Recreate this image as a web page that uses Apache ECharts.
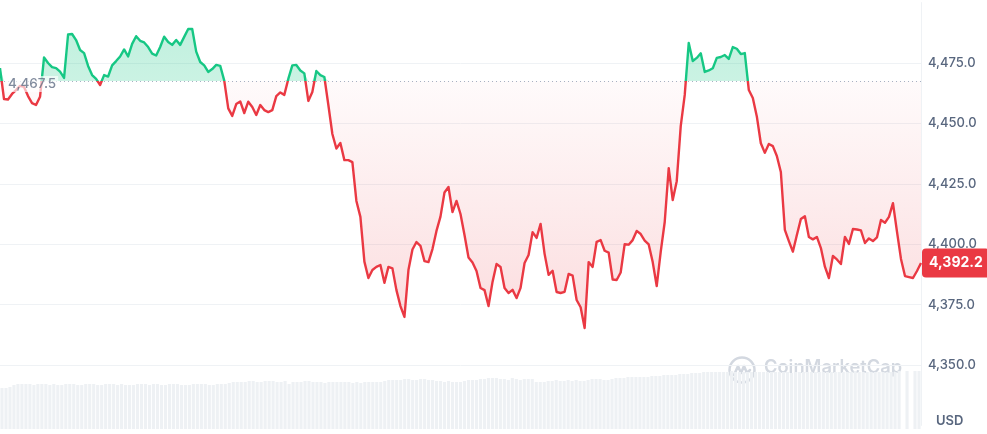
<!DOCTYPE html>
<html>
<head>
<meta charset="utf-8">
<script src="https://cdn.jsdelivr.net/npm/echarts@6/dist/echarts.min.js"></script>
<style>
html,body{margin:0;padding:0;background:#fff;}
#chart{width:987px;height:434px;}
</style>
</head>
<body>
<div id="chart"></div>
<script>
const BASE = 4467.5;
const CURRENT = 4392.2;
const priceTicks = [4350, 4375, 4400, 4425, 4450, 4475];
const price = [
4472.9,4460.1,4459.9,4462.2,4463.8,4465.5,4465.1,4461.3,4458.4,4457.6,
4461.0,4477.3,4475.0,4473.3,4472.9,4471.4,4468.8,4486.8,4487.0,4484.5,
4480.4,4479.1,4473.8,4470.0,4468.4,4465.9,4470.0,4469.4,4474.0,4475.8,
4477.7,4480.6,4477.7,4482.9,4486.1,4484.2,4483.5,4481.6,4478.9,4478.1,
4481.6,4485.9,4483.7,4482.5,4484.5,4482.5,4485.8,4489.1,4489.1,4479.7,
4475.4,4474.0,4471.3,4472.5,4474.2,4473.8,4467.7,4456.2,4453.1,4458.0,
4459.1,4454.3,4459.0,4456.8,4453.5,4457.6,4455.5,4454.7,4455.5,4461.3,
4462.8,4461.8,4468.4,4474.0,4474.2,4471.9,4470.7,4459.3,4463.0,4471.7,
4470.0,4469.2,4457.6,4445.6,4439.6,4441.9,4434.8,4434.8,4434.0,4417.9,
4411.3,4392.8,4386.0,4389.3,4390.6,4391.4,4384.0,4390.6,4390.0,4381.0,
4374.4,4369.9,4389.3,4397.8,4400.9,4399.3,4393.0,4392.6,4398.0,4405.5,
4411.4,4421.4,4423.7,4413.3,4417.9,4412.5,4403.8,4394.5,4392.4,4388.9,
4381.9,4381.0,4374.4,4384.4,4391.8,4390.6,4381.9,4379.8,4381.1,4377.7,
4381.9,4392.2,4395.5,4405.0,4402.6,4408.4,4396.0,4387.3,4389.0,4380.2,
4379.8,4380.3,4387.7,4387.0,4376.9,4373.9,4365.3,4392.6,4390.6,4401.0,
4401.7,4397.3,4396.5,4385.4,4385.2,4388.3,4400.0,4399.8,4401.7,4405.5,
4404.2,4401.5,4399.9,4392.6,4382.7,4396.8,4409.2,4431.5,4418.3,4426.1,
4448.9,4461.8,4483.3,4475.8,4477.1,4479.0,4471.3,4471.9,4472.8,4477.1,
4477.5,4478.3,4476.7,4481.6,4480.9,4478.7,4479.1,4463.8,4460.5,4452.9,
4441.8,4437.8,4441.5,4440.6,4436.5,4429.9,4405.9,4401.3,4396.9,4403.8,
4410.4,4411.6,4403.0,4402.0,4403.0,4398.4,4390.7,4386.0,4395.1,4393.7,
4391.8,4403.0,4400.1,4406.3,4406.1,4405.7,4400.5,4402.4,4401.3,4402.8,
4410.0,4408.9,4411.3,4417.0,4405.2,4393.9,4386.8,4386.4,4386.0,4388.9,
4392.2
];
const volume = [
41,41,42,44,45,45,45,45,44,45,
45,45,44,45,44,44,45,45,45,44,
44,45,45,45,44,44,45,45,45,44,
45,44,44,44,45,45,45,44,45,45,
44,44,45,45,45,44,44,44,45,45,
45,45,44,44,45,45,45,46,47,47,
47,47,48,48,47,47,48,48,48,47,
47,48,45,47,47,47,48,48,47,47,
47,46,47,47,47,47,47,47,46,47,
46,47,47,47,47,47,48,49,49,49,
49,50,50,49,49,50,50,49,49,48,
48,47,48,47,47,47,48,49,49,49,
50,50,51,51,51,50,50,49,51,50,
49,50,50,50,47,47,47,48,48,49,
48,48,49,48,49,48,48,49,50,50,
50,49,49,50,51,51,51,52,52,52,
52,52,52,53,53,53,54,54,54,54,
55,55,55,56,56,56,57,57,57,57,
57,57,57,58,57,57,57,57,57,57,
57,57,57,57,57,57,57,57,56,57,
57,57,57,57,57,57,57,57,57,57,
57,57,57,57,58,57,57,57,57,57,
57,57,57,57,57,58,0,58,0,58,
58
];
const categories = price.map((_, i) => {
  const m = i * 6;
  const h = Math.floor(m / 60), mm = m % 60;
  return String(h).padStart(2, '0') + ':' + String(mm).padStart(2, '0');
});

const fmt = v => Number(v).toLocaleString('en-US', {minimumFractionDigits: 1, maximumFractionDigits: 1});
const upArea = price.map(v => Math.max(v, BASE));
const downArea = price.map(v => Math.min(v, BASE));

const GREEN = '#16c784', RED = '#ea3943', LABEL = '#58667e', GRID = '#eff2f5';
const FONT = 'Inter, "Noto Sans", sans-serif';

const chart = echarts.init(document.getElementById('chart'), null, {renderer: 'canvas'});
chart.setOption({
  animation: false,
  backgroundColor: '#fff',
  textStyle: {fontFamily: FONT},
  grid: [
    {left: 0, right: 66, top: 2.6, height: 422.8},
    {left: 0, right: 66, top: 329, height: 100}
  ],
  xAxis: [
    {type: 'category', gridIndex: 0, data: categories, boundaryGap: false, show: false},
    {type: 'category', gridIndex: 1, data: categories, boundaryGap: true, show: false}
  ],
  yAxis: [
    {
      type: 'value', gridIndex: 0, position: 'right',
      min: priceTicks[0] - 25, max: priceTicks[priceTicks.length - 1] + 25, interval: 25,
      axisLine: {show: true, lineStyle: {color: GRID, width: 1}},
      axisTick: {show: false},
      axisLabel: {
        show: true, margin: 7, color: LABEL, fontSize: 13, fontWeight: 500, fontFamily: FONT,
        showMinLabel: false, showMaxLabel: false,
        formatter: v => (priceTicks.indexOf(v) >= 0 ? fmt(v) : '')
      },
      splitLine: {show: true, showMinLine: false, showMaxLine: false, lineStyle: {color: GRID, width: 1}}
    },
    {type: 'value', gridIndex: 1, min: 0, max: 100, show: false}
  ],
  visualMap: {
    show: false, type: 'piecewise', seriesIndex: 3, dimension: 1,
    pieces: [
      {gt: 4000, lte: BASE, color: RED},
      {gt: BASE, lte: 5000, color: GREEN}
    ],
    outOfRange: {color: RED}
  },
  graphic: [
    {
      type: 'text', left: 936, top: 415,
      style: {text: 'USD', fill: LABEL, font: '600 13px ' + FONT}
    },
    {
      type: 'group', left: 727, top: 355, silent: true,
      children: [
        {type: 'circle', shape: {cx: 14, cy: 14, r: 12.5}, style: {fill: 'none', stroke: '#d3d8e0', lineWidth: 2.5}},
        {type: 'polyline', shape: {points: [[6, 19], [10, 10], [13, 17], [16, 10], [19, 17], [22, 14]]},
         style: {fill: 'none', stroke: '#d3d8e0', lineWidth: 2.5, lineJoin: 'round', lineCap: 'round'}}
      ]
    },
    {
      type: 'text', left: 764, top: 359, silent: true,
      style: {text: 'CoinMarketCap', fill: '#d3d8e0', font: '600 18.3px ' + FONT}
    }
  ],
  series: [
    {
      name: 'volume', type: 'bar', xAxisIndex: 1, yAxisIndex: 1, data: volume,
      barCategoryGap: '22%', itemStyle: {color: '#eef1f4'}, silent: true
    },
    {
      name: 'up', type: 'line', xAxisIndex: 0, yAxisIndex: 0, data: upArea,
      symbol: 'none', silent: true, lineStyle: {width: 0, opacity: 0},
      areaStyle: {
        origin: BASE,
        color: new echarts.graphic.LinearGradient(0, 0, 0, 1, [
          {offset: 0, color: 'rgba(22,199,132,0.38)'},
          {offset: 1, color: 'rgba(22,199,132,0.32)'}
        ])
      }
    },
    {
      name: 'down', type: 'line', xAxisIndex: 0, yAxisIndex: 0, data: downArea,
      symbol: 'none', silent: true, lineStyle: {width: 0, opacity: 0},
      areaStyle: {
        origin: BASE,
        color: new echarts.graphic.LinearGradient(0, 0, 0, 1, [
          {offset: 0, color: 'rgba(234,57,67,0.03)'},
          {offset: 1, color: 'rgba(234,57,67,0.25)'}
        ])
      }
    },
    {
      name: 'price', type: 'line', xAxisIndex: 0, yAxisIndex: 0, data: price,
      symbol: 'none', silent: true, lineStyle: {width: 2.4, join: 'round'}, z: 5,
      markLine: {
        silent: true, symbol: 'none', animation: false,
        data: [
          {yAxis: BASE, lineStyle: {color: '#a7b1c2', type: [1, 3], width: 1}, label: {show: false}},
          {
            yAxis: CURRENT, lineStyle: {color: 'rgba(0,0,0,0)', width: 0},
            label: {
              show: true, position: 'end', distance: 1,
              formatter: p => fmt(p.value),
              color: '#fff', backgroundColor: RED, fontWeight: 700, fontSize: 14,
              fontFamily: FONT, padding: [8, 7, 7, 7], borderRadius: 4
            }
          }
        ]
      }
    },
    {
      name: 'baseLabel', type: 'scatter', xAxisIndex: 0, yAxisIndex: 0,
      data: [[0, BASE]], symbolSize: 0, silent: true, z: 10,
      label: {
        show: true, position: 'right', distance: 6, offset: [0, 3],
        formatter: () => fmt(BASE),
        color: '#616e85', fontSize: 13.5, fontWeight: 500, fontFamily: FONT,
        backgroundColor: 'rgba(255,255,255,0.8)', padding: [1, 2]
      }
    }
  ]
});
</script>
</body>
</html>
